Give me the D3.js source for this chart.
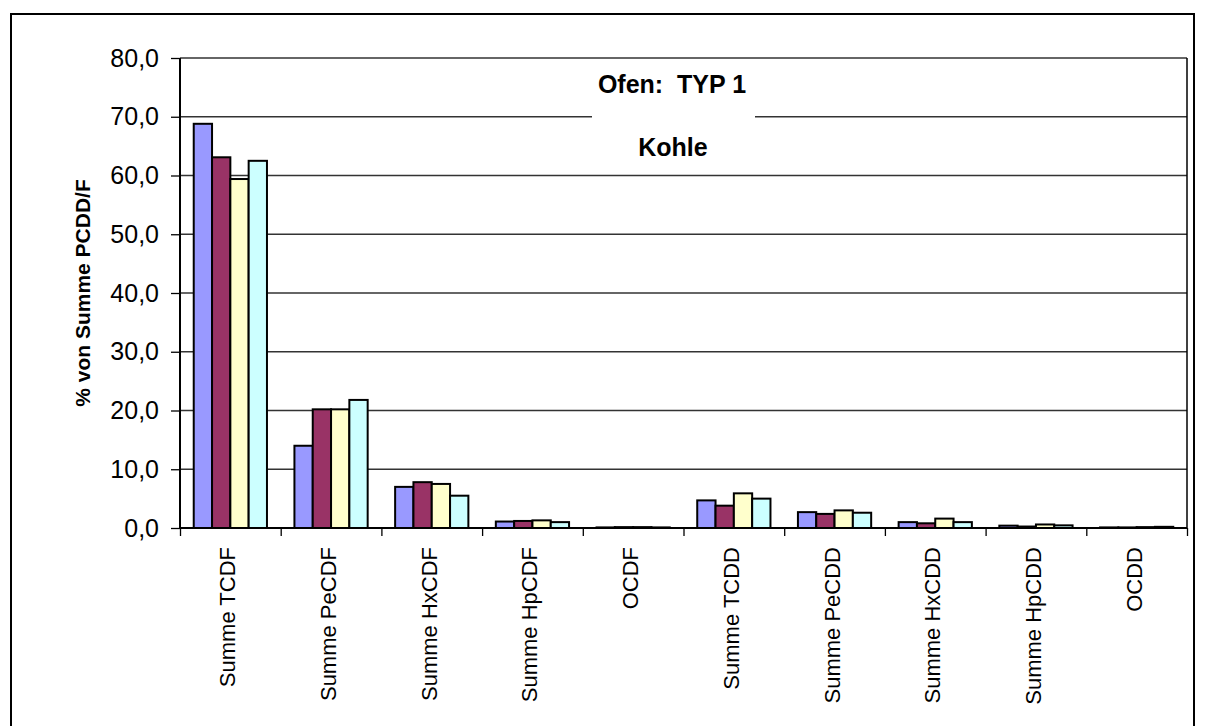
<!DOCTYPE html>
<html>
<head>
<meta charset="utf-8">
<script src="https://cdn.jsdelivr.net/npm/d3@7"></script>
<style>
  body { margin: 0; background: #fff; }
  svg { display: block; font-family: "Liberation Sans", Arial, sans-serif; }
</style>
</head>
<body>
<script>
'use strict';

// categories (x axis)
const kategorien = ["Summe TCDF", "Summe PeCDF", "Summe HxCDF", "Summe HpCDF", "OCDF",
                    "Summe TCDD", "Summe PeCDD", "Summe HxCDD", "Summe HpCDD", "OCDD"];

// four series, one value per category (% von Summe PCDD/F)
const serie1 = [68.8, 14.0, 7.0, 1.1, 0.1, 4.7, 2.7, 1.0, 0.4, 0.1];
const serie2 = [63.1, 20.2, 7.8, 1.2, 0.15, 3.8, 2.4, 0.8, 0.25, 0.1];
const serie3 = [59.4, 20.2, 7.5, 1.3, 0.15, 5.9, 3.0, 1.6, 0.6, 0.15];
const serie4 = [62.5, 21.8, 5.5, 1.0, 0.1, 5.0, 2.6, 1.0, 0.45, 0.2];

const farben = ["#9999ff", "#993366", "#ffffcc", "#ccffff"];
const yTicks = [0, 10, 20, 30, 40, 50, 60, 70, 80];

const series = [serie1, serie2, serie3, serie4];

// canevas
const svg = d3.select("body").append("svg")
  .attr("width", 1206)
  .attr("height", 726);

// cadre extérieur
svg.append("rect")
  .attr("x", 11).attr("y", 14)
  .attr("width", 1183).attr("height", 730)
  .style("fill", "none")
  .style("stroke", "#000")
  .style("stroke-width", 2);

const gauche = 180, droite = 1187, haut = 58, bas = 528;

const x = d3.scaleBand()
  .domain(kategorien)
  .range([gauche, droite]);

const barW = x.bandwidth() / (series.length + 1.5);
const xs = d3.scaleBand()
  .domain(d3.range(series.length))
  .range([barW * 0.75, barW * 0.75 + barW * series.length]);

const y = d3.scaleLinear()
  .domain([0, 80])
  .range([bas, haut]);

// lignes de grille
svg.append("g")
  .selectAll("line")
  .data(yTicks.filter(d => d > 0))
  .enter()
  .append("line")
    .attr("x1", gauche).attr("x2", droite)
    .attr("y1", d => y(d)).attr("y2", d => y(d))
    .style("stroke", "#333")
    .style("stroke-width", 1.3);

// bord droit de la zone de tracé
svg.append("line")
  .attr("x1", droite).attr("x2", droite)
  .attr("y1", haut).attr("y2", bas)
  .style("stroke", "#000")
  .style("stroke-width", 1.5);

// boîte du titre (masque la grille)
svg.append("rect")
  .attr("x", 592).attr("y", 60)
  .attr("width", 163).attr("height", 114)
  .style("fill", "#fff");

svg.append("text")
  .attr("x", 672).attr("y", 93)
  .attr("text-anchor", "middle")
  .style("font-size", "25px")
  .style("font-weight", "bold")
  .style("white-space", "pre")
  .text("Ofen:  TYP 1");

svg.append("text")
  .attr("x", 673).attr("y", 156)
  .attr("text-anchor", "middle")
  .style("font-size", "25px")
  .style("font-weight", "bold")
  .text("Kohle");

// barres
const groupes = svg.append("g")
  .selectAll("g")
  .data(series)
  .enter()
  .append("g")
    .style("fill", (d, i) => farben[i]);

groupes.selectAll("rect")
  .data((d, si) => d.map((v, ci) => ({ v: v, cat: kategorien[ci], s: si })))
  .enter()
  .append("rect")
    .attr("x", d => x(d.cat) + xs(d.s))
    .attr("y", d => y(d.v))
    .attr("width", xs.bandwidth())
    .attr("height", d => bas - y(d.v))
    .style("stroke", "#000")
    .style("stroke-width", 2);

// axe des Y
const axeY = svg.append("g")
  .attr("transform", `translate(${gauche},0)`)
  .call(d3.axisLeft(y)
    .tickValues(yTicks)
    .tickSize(9)
    .tickPadding(12)
    .tickFormat(d => d3.format(".1f")(d).replace(".", ",")));
axeY.select(".domain").attr("d", `M0,${haut}V${bas}`).style("stroke-width", 2);
axeY.selectAll(".tick line").style("stroke-width", 1.3);
axeY.selectAll("text")
  .style("font-size", "25px")
  .style("font-family", "\"Liberation Sans\", Arial, sans-serif")
  .attr("fill", "#000");

// axe des X : graduations entre les catégories
const xBord = d3.scaleLinear()
  .domain([0, kategorien.length])
  .range([gauche, droite]);

const axeX = svg.append("g")
  .attr("transform", `translate(0,${bas})`)
  .call(d3.axisBottom(xBord)
    .tickValues(d3.range(kategorien.length + 1))
    .tickSize(8)
    .tickFormat(""));
axeX.select(".domain").attr("d", `M${gauche},0H${droite}`).style("stroke-width", 2.2);
axeX.selectAll(".tick line").style("stroke-width", 1.3);

// étiquettes des catégories
svg.append("g")
  .selectAll("text")
  .data(kategorien)
  .enter()
  .append("text")
    .attr("transform", d => `translate(${x(d) + x.bandwidth() / 2 + 5},547) rotate(-90)`)
    .attr("text-anchor", "end")
    .style("font-size", "22px")
    .text(d => d);

// titre de l'axe Y
svg.append("text")
  .attr("transform", "translate(89.5,293) rotate(-90)")
  .attr("text-anchor", "middle")
  .style("font-size", "21px")
  .style("font-weight", "bold")
  .text("% von Summe PCDD/F");
</script>
</body>
</html>
